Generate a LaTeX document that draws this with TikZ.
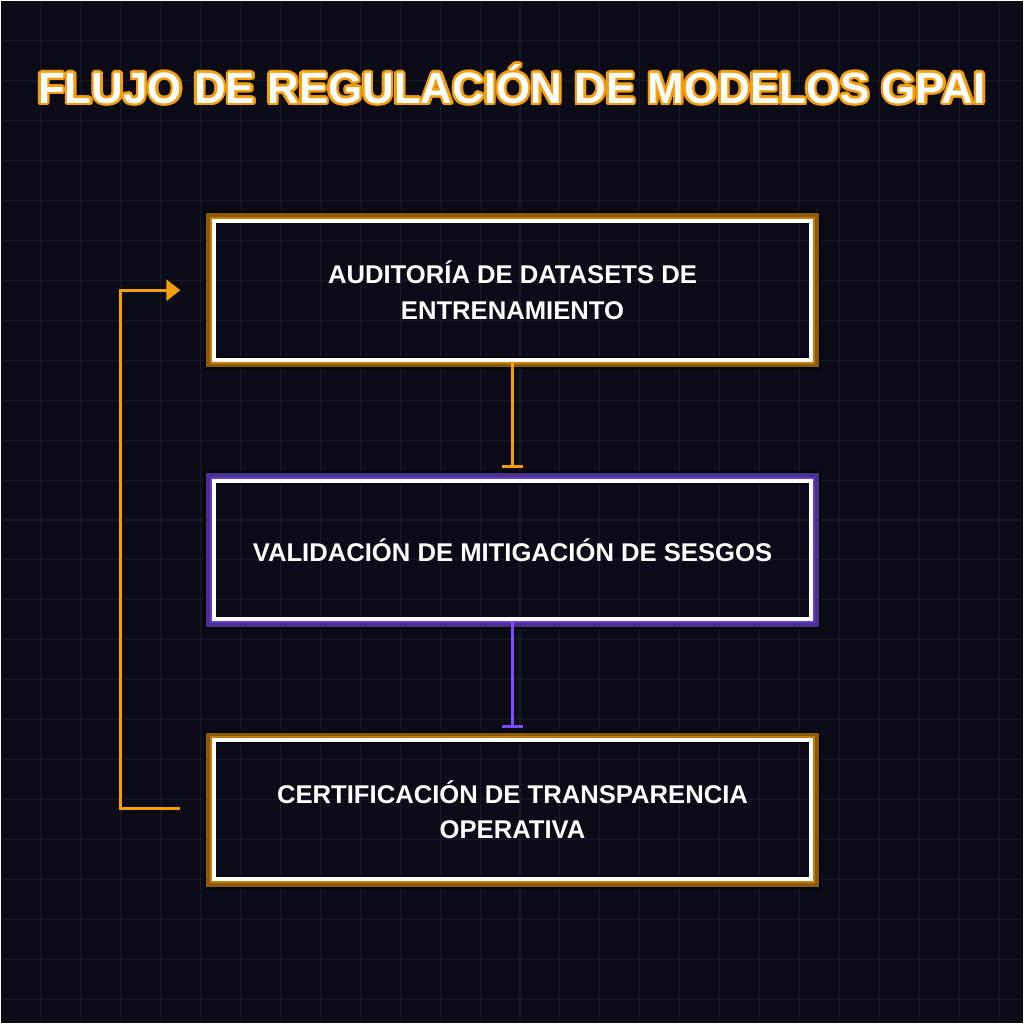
\documentclass[tikz,border=0pt]{standalone}
\usepackage{fontspec}
\setmainfont{Liberation Sans}
\usepackage{contour}
\contourlength{0.7pt}
\usetikzlibrary{arrows.meta}
\definecolor{bg}{HTML}{0B0B18}
\definecolor{gridc}{HTML}{1A192B}
\definecolor{amber}{HTML}{F59E0B}
\definecolor{amberdk}{HTML}{8A5A06}
\definecolor{violet}{HTML}{7C4DFF}
\definecolor{violetdk}{HTML}{4A2F91}
\tikzset{
  stagebox/.style={draw=white, line width=4*0.2845pt, minimum width=59.8mm, minimum height=13.9mm,
    align=center, font=\fontsize{7.3}{10}\selectfont\bfseries, text=white},
  glow/.style={draw=#1, line width=8*0.2845pt}
}
\begin{document}
\begin{tikzpicture}[x=0.1mm, y=-0.1mm]

\path[fill=bg] (0,0) rectangle (1024,1024);
\foreach \i in {40,80,...,1000} {
  \draw[gridc, line width=0.3pt] (\i,0) -- (\i,1024);
  \draw[gridc, line width=0.3pt] (0,\i) -- (1024,\i);
}

\node (title) at (512,85) {\fontsize{12.5}{15}\selectfont\bfseries\contour{amber}{\textcolor{white}{FLUJO DE REGULACIÓN DE MODELOS GPAI}}};

%%%%%%%%%%%%%%%%%%%%%%%%%%%%%%%%%%%%%%%%%%%%%%%%%%%%%%%%%%%%%%%%%%%%%%%%%%%%%%%
\draw[black, line width=12*0.2845pt] (210,217) rectangle (815,363);
\draw[glow=amberdk] (210,217) rectangle (815,363);
\draw[amber!80!black, line width=3*0.2845pt] (211,218) rectangle (814,362);
\node[stagebox] (audit) at (512.5,290) {AUDITORÍA DE DATASETS DE\\ENTRENAMIENTO};

\draw[black, line width=12*0.2845pt] (210,477) rectangle (815,623);
\draw[glow=violetdk] (210,477) rectangle (815,623);
\draw[violet!80!black, line width=3*0.2845pt] (211,478) rectangle (814,622);
\node[stagebox] (bias) at (512.5,550) {VALIDACIÓN DE MITIGACIÓN DE SESGOS};

\draw[black, line width=12*0.2845pt] (210,737) rectangle (815,883);
\draw[glow=amberdk] (210,737) rectangle (815,883);
\draw[amber!80!black, line width=3*0.2845pt] (211,738) rectangle (814,882);
\node[stagebox] (cert) at (512.5,810) {CERTIFICACIÓN DE TRANSPARENCIA\\OPERATIVA};

%%%%%%%%%%%%%%%%%%%%%%%%%%%%%%%%%%%%%%%%%%%%%%%%%%%%%%%%%%%%%%%%%%%%%%%%%%%%%%%
\coordinate (loopin) at (180,290);
\coordinate (loopout) at (180,809);
\draw[amber, line width=3*0.2845pt, -{Bar[width=6pt]}] (audit.south) -- ([yshift=3pt]bias.north);
\draw[violet, line width=3*0.2845pt, -{Bar[width=6pt]}] (bias.south) -- ([yshift=3pt]cert.north);
\draw[amber, line width=3*0.2845pt, -{Triangle[length=4pt,width=6pt]}] (loopout) -- (120,809) -- (120,290) -- (loopin);

\end{tikzpicture}
\end{document}
